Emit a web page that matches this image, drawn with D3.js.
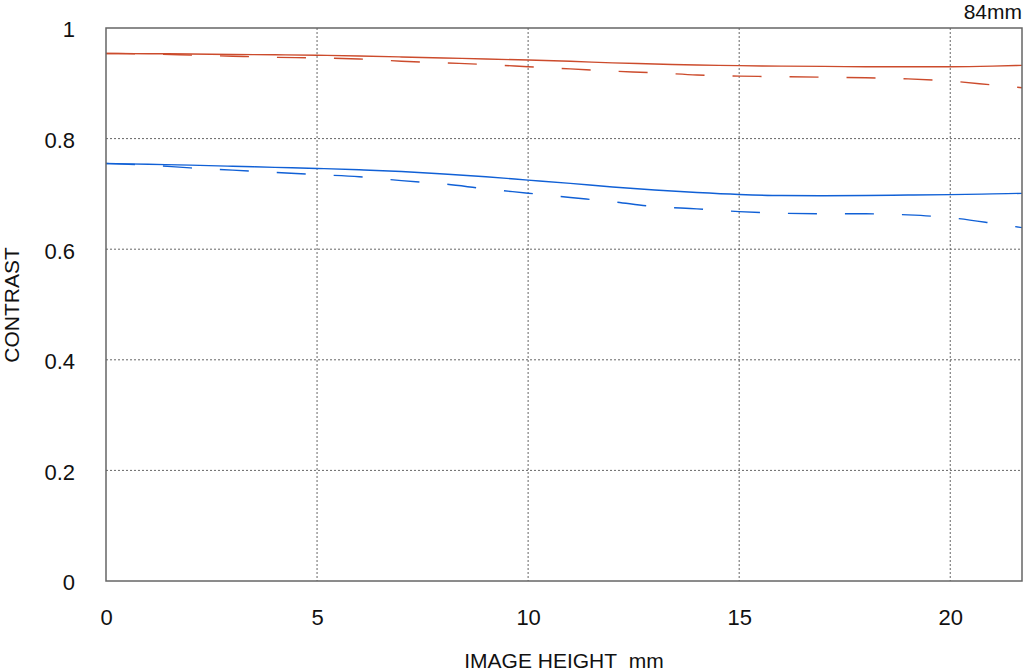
<!DOCTYPE html>
<html>
<head>
<meta charset="utf-8">
<script src="https://cdn.jsdelivr.net/npm/d3@7"></script>
<style>
  body { margin: 0; background: #fff; }
  svg text { font-family: "Liberation Sans", Arial, sans-serif; fill: #111; }
</style>
</head>
<body>
<script>
// Image height positions (mm)
var heights = [0, 1, 2, 3, 4, 5, 6, 7, 8, 9, 10, 11, 12, 13, 14, 15, 16, 17, 18, 19, 20, 21, 21.7];

// Contrast values
var redSolid  = [0.954, 0.9535, 0.953, 0.952, 0.9516, 0.9507, 0.9494, 0.9476, 0.9458, 0.944, 0.942, 0.9398, 0.937, 0.935, 0.933, 0.932, 0.931, 0.9306, 0.930, 0.930, 0.930, 0.931, 0.9325];
var redDash   = [0.954, 0.953, 0.951, 0.949, 0.947, 0.946, 0.944, 0.940, 0.937, 0.934, 0.930, 0.926, 0.922, 0.919, 0.915, 0.913, 0.912, 0.911, 0.910, 0.908, 0.904, 0.897, 0.892];
var blueSolid = [0.755, 0.7535, 0.752, 0.750, 0.748, 0.746, 0.7436, 0.7405, 0.736, 0.731, 0.725, 0.719, 0.7125, 0.707, 0.7025, 0.699, 0.697, 0.6967, 0.697, 0.698, 0.6986, 0.700, 0.701];
var blueDash  = [0.755, 0.752, 0.747, 0.743, 0.739, 0.735, 0.731, 0.724, 0.718, 0.709, 0.7013, 0.6935, 0.686, 0.677, 0.673, 0.668, 0.665, 0.664, 0.664, 0.662, 0.657, 0.647, 0.639];

var xTicks = [0, 5, 10, 15, 20];
var yTicks = [0, 0.2, 0.4, 0.6, 0.8, 1];
var yTickLabels = ["0", "0.2", "0.4", "0.6", "0.8", "1"];

var series = [
  {values: redSolid,  color: "#cc4b2c", dash: null},
  {values: redDash,   color: "#cc4b2c", dash: "29,28"},
  {values: blueSolid, color: "#1060d6", dash: null},
  {values: blueDash,  color: "#1060d6", dash: "29,28"}
];

// Plot box
var margin = {top: 28, right: 2, bottom: 91, left: 106},
    width = 1024 - margin.left - margin.right,
    height = 672 - margin.top - margin.bottom;

var x = d3.scaleLinear().domain([0, 21.7]).range([0, width]);
var y = d3.scaleLinear().domain([0, 1]).range([height, 0]);

var svg = d3.select("body").append("svg")
    .attr("width", 1024)
    .attr("height", 672);

var chart = svg.append("g")
    .attr("transform", "translate(" + margin.left + "," + margin.top + ")");

// dotted grid
chart.selectAll(".vgrid")
    .data(xTicks.filter(function(d) { return d > 0; }))
  .enter().append("line")
    .attr("x1", function(d) { return x(d); })
    .attr("x2", function(d) { return x(d); })
    .attr("y1", 0)
    .attr("y2", height)
    .attr("stroke", "#666")
    .attr("stroke-width", 1)
    .attr("stroke-dasharray", "2,2");

chart.selectAll(".hgrid")
    .data(yTicks.filter(function(d) { return d > 0 && d < 1; }))
  .enter().append("line")
    .attr("x1", 0)
    .attr("x2", width)
    .attr("y1", function(d) { return y(d); })
    .attr("y2", function(d) { return y(d); })
    .attr("stroke", "#666")
    .attr("stroke-width", 1)
    .attr("stroke-dasharray", "2,2");

// curves
var line = d3.line()
    .x(function(d, i) { return x(heights[i]); })
    .y(function(d) { return y(d); })
    .curve(d3.curveMonotoneX);

chart.selectAll(".curve")
    .data(series)
  .enter().append("path")
    .attr("d", function(d) { return line(d.values); })
    .attr("fill", "none")
    .attr("stroke", function(d) { return d.color; })
    .attr("stroke-width", 1.4)
    .attr("stroke-dasharray", function(d) { return d.dash; });

// frame
chart.append("rect")
    .attr("x", 0)
    .attr("y", 0)
    .attr("width", width)
    .attr("height", height)
    .attr("fill", "none")
    .attr("stroke", "#666")
    .attr("stroke-width", 1.5);

// axes (labels only, lines are drawn by the frame)
var xAxis = chart.append("g")
    .attr("transform", "translate(0," + height + ")")
    .call(d3.axisBottom(x).tickValues(xTicks).tickSize(0).tickPadding(28).tickFormat(d3.format("d")));
xAxis.select(".domain").remove();
xAxis.selectAll("text")
    .style("font-size", "22px")
    .attr("fill", "#111");

var yAxis = chart.append("g")
    .call(d3.axisLeft(y).tickValues(yTicks).tickSize(0).tickPadding(31)
      .tickFormat(function(d, i) { return yTickLabels[i]; }));
yAxis.select(".domain").remove();
yAxis.selectAll("text")
    .style("font-size", "22px")
    .attr("dy", "0.4em")
    .attr("fill", "#111");

// titles
svg.append("text")
    .attr("x", margin.left + width / 2)
    .attr("y", 668)
    .attr("text-anchor", "middle")
    .style("font-size", "21px")
    .text("IMAGE HEIGHT\u00a0\u00a0mm");

svg.append("text")
    .attr("transform", "translate(18.5,305) rotate(-90)")
    .attr("text-anchor", "middle")
    .style("font-size", "21px")
    .text("CONTRAST");

svg.append("text")
    .attr("x", 1022)
    .attr("y", 18.5)
    .attr("text-anchor", "end")
    .style("font-size", "21px")
    .text("84mm");
</script>
</body>
</html>
